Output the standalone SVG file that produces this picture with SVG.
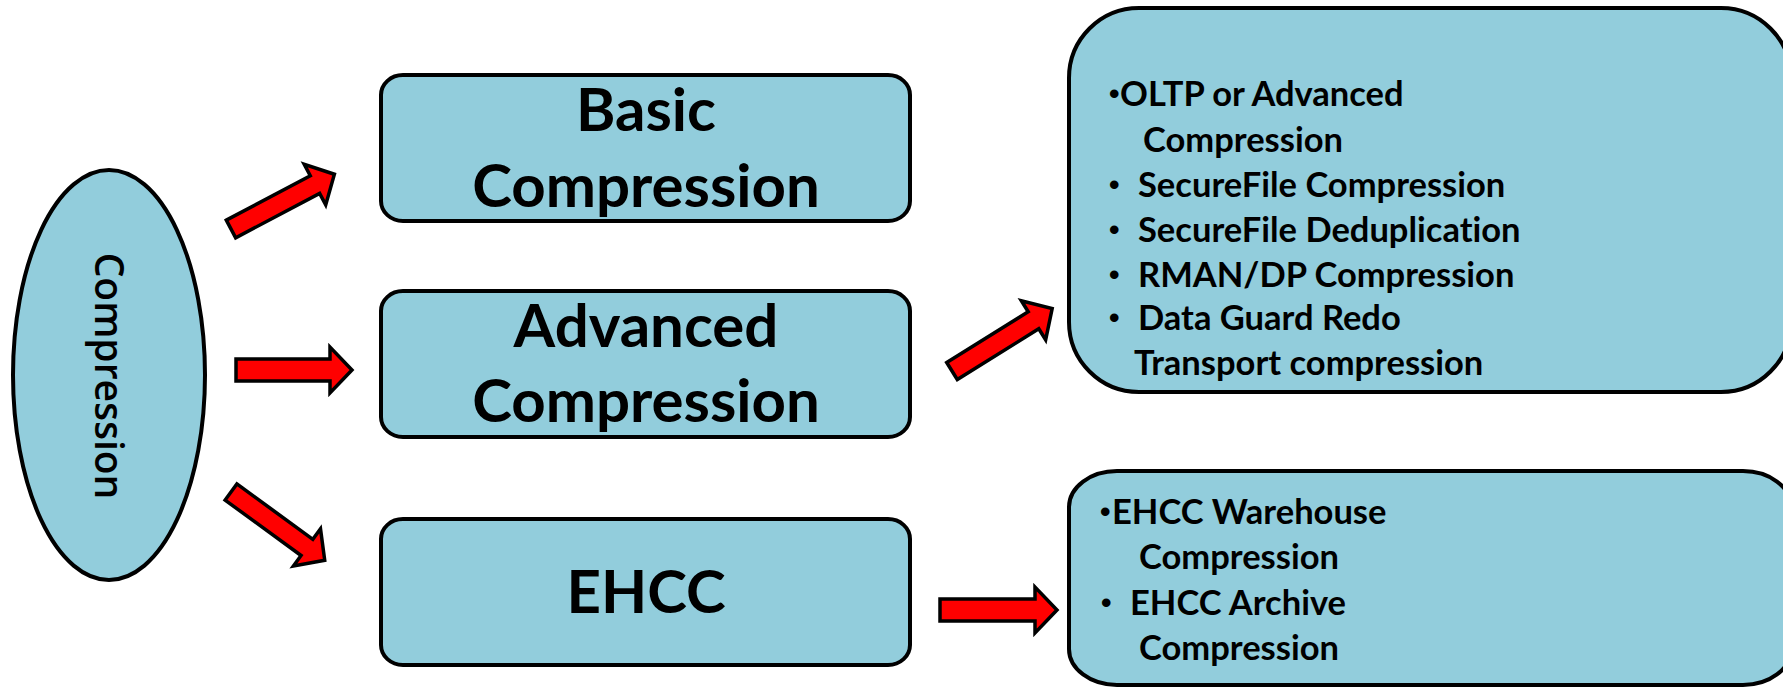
<svg xmlns="http://www.w3.org/2000/svg" width="1783" height="687" viewBox="0 0 1783 687">
<style>
.shape{fill:#92CDDC;stroke:#000;stroke-width:4}
.arrow{fill:#FF0000;stroke:#000;stroke-width:3.5;stroke-linejoin:miter}
.big{font-family:Lato,"Liberation Sans",sans-serif;font-weight:700;font-size:60px;fill:#000;text-anchor:middle;font-variant-ligatures:none}
.item{font-family:Lato,"Liberation Sans",sans-serif;font-weight:700;font-size:34.5px;fill:#000;font-variant-ligatures:none}
.bul{font-family:"Liberation Sans",sans-serif;font-weight:700;font-size:30px;fill:#000}
.ell{font-family:"Open Sans","Liberation Sans",sans-serif;font-weight:600;font-size:39px;fill:#000;text-anchor:middle}
</style>
<rect width="1783" height="687" fill="#fff"/>
<g id="compression">
<ellipse class="shape" cx="109" cy="375" rx="96" ry="205"/>
<text class="ell" transform="translate(95,376) rotate(90)">Compression</text>
</g>
<g id="basic">
<rect class="shape" x="381" y="75" width="529" height="146" rx="22" ry="20"/>
<text class="big" x="646" y="131">Basic</text>
<text class="big" x="646" y="207">Compression</text>
</g>
<g id="advanced">
<rect class="shape" x="381" y="291" width="529" height="146" rx="22" ry="20"/>
<text class="big" x="646" y="347">Advanced</text>
<text class="big" x="646" y="422">Compression</text>
</g>
<g id="ehcc">
<rect class="shape" x="381" y="519" width="529" height="146" rx="22" ry="20"/>
<text class="big" x="646" y="613">EHCC</text>
</g>
<g id="advanced-features">
<rect class="shape" x="1069" y="8" width="722" height="384" rx="70" ry="70"/>
<text class="bul" x="1109" y="104">•</text><text class="item" x="1120" y="106">OLTP or Advanced</text>
<text class="item" x="1143" y="152">Compression</text>
<text class="bul" x="1109" y="195">•</text><text class="item" x="1138" y="197">SecureFile Compression</text>
<text class="bul" x="1109" y="240">•</text><text class="item" x="1138" y="242">SecureFile Deduplication</text>
<text class="bul" x="1109" y="285">•</text><text class="item" x="1138" y="287">RMAN/DP Compression</text>
<text class="bul" x="1109" y="328">•</text><text class="item" x="1138" y="330">Data Guard Redo</text>
<text class="item" x="1134" y="375">Transport compression</text>
</g>
<g id="ehcc-features">
<rect class="shape" x="1069" y="471" width="722" height="214" rx="48" ry="36"/>
<text class="bul" x="1100" y="522">•</text><text class="item" x="1112" y="524">EHCC Warehouse</text>
<text class="item" x="1139" y="569">Compression</text>
<text class="bul" x="1101" y="613">•</text><text class="item" x="1130" y="615">EHCC Archive</text>
<text class="item" x="1139" y="660">Compression</text>
</g>
<g id="connectors">
<polygon class="arrow" points="0,-10 95,-10 95,-23 117,0 95,23 95,10 0,10" transform="translate(231,229) rotate(-27.9)"/>
<polygon class="arrow" points="0,-11 94,-11 94,-23 116,0 94,23 94,11 0,11" transform="translate(236,370)"/>
<polygon class="arrow" points="0,-10 94,-10 94,-23 116,0 94,23 94,10 0,10" transform="translate(231,492) rotate(36.1)"/>
<polygon class="arrow" points="0,-10 96,-10 96,-23 118,0 96,23 96,10 0,10" transform="translate(952,371) rotate(-31.9)"/>
<polygon class="arrow" points="0,-11 95,-11 95,-23 117,0 95,23 95,11 0,11" transform="translate(940,610)"/>
</g>
</svg>
